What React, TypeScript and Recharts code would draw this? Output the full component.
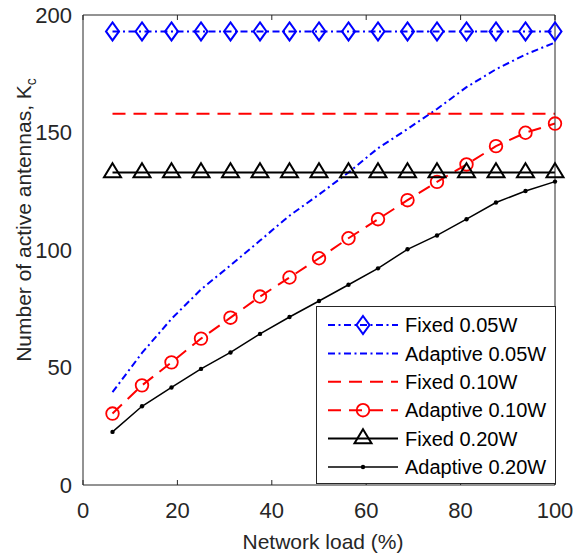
import React from 'react';
import { LineChart, Line, XAxis, YAxis, Legend } from 'recharts';

// ---------- data ----------
const networkLoad = [6.25, 12.5, 18.75, 25, 31.25, 37.5, 43.75, 50, 56.25, 62.5, 68.75, 75, 81.25, 87.5, 93.75, 100];
const fixed005 = [193, 193, 193, 193, 193, 193, 193, 193, 193, 193, 193, 193, 193, 193, 193, 193];
const adaptive005 = [39.5, 56.2, 70.7, 83.2, 93.5, 104, 114.6, 123.6, 133, 143.3, 151.5, 160, 169.3, 176.9, 183.2, 188.3];
const fixed010 = [158, 158, 158, 158, 158, 158, 158, 158, 158, 158, 158, 158, 158, 158, 158, 158];
const adaptive010 = [30.4, 42.4, 52.2, 62.3, 71.2, 80.2, 88.3, 96.5, 105, 113.1, 121.2, 129, 136.4, 144.2, 149.9, 153.8];
const fixed020 = [133, 133, 133, 133, 133, 133, 133, 133, 133, 133, 133, 133, 133, 133, 133, 133];
const adaptive020 = [22.6, 33.5, 41.5, 49.4, 56.4, 64.3, 71.5, 78.3, 85.2, 92.2, 100.3, 106.2, 113.1, 120.2, 125.1, 129.1];

const xTicks = [0, 20, 40, 60, 80, 100];
const yTicks = [0, 50, 100, 150, 200];
const seriesNames = ['Fixed 0.05W', 'Adaptive 0.05W', 'Fixed 0.10W', 'Adaptive 0.10W', 'Fixed 0.20W', 'Adaptive 0.20W'];
const xLabel = 'Network load (%)';
const yLabelMain = 'Number of active antennas, K';
const yLabelSub = 'c';

const rows = networkLoad.map((load, i) => ({
  load,
  fixed005: fixed005[i],
  adaptive005: adaptive005[i],
  fixed010: fixed010[i],
  adaptive010: adaptive010[i],
  fixed020: fixed020[i],
  adaptive020: adaptive020[i],
}));

// ---------- styles ----------
const FONT = '"Liberation Sans", Arial, Helvetica, sans-serif';
const AXIS = '#262626';
const BLUE = '#0000ff';
const RED = '#ff0000';
const BLACK = '#000000';
const DASHDOT = '7 3.5 2 3.5';
const DASHED = '13 8';

type Marker = 'diamond' | 'circle' | 'triangle' | 'dot' | 'none';
const series: { key: string; name: string; color: string; dash?: string; width: number; marker: Marker }[] = [
  { key: 'fixed005', name: seriesNames[0], color: BLUE, dash: DASHDOT, width: 2, marker: 'diamond' },
  { key: 'adaptive005', name: seriesNames[1], color: BLUE, dash: DASHDOT, width: 2, marker: 'none' },
  { key: 'fixed010', name: seriesNames[2], color: RED, dash: DASHED, width: 2, marker: 'none' },
  { key: 'adaptive010', name: seriesNames[3], color: RED, dash: DASHED, width: 2, marker: 'circle' },
  { key: 'fixed020', name: seriesNames[4], color: BLACK, width: 2, marker: 'triangle' },
  { key: 'adaptive020', name: seriesNames[5], color: BLACK, width: 1.5, marker: 'dot' },
];

function renderMarker(marker: Marker, cx: number, cy: number, color: string) {
  switch (marker) {
    case 'diamond':
      return (
        <path
          d={`M${cx},${cy - 9} L${cx + 6.5},${cy} L${cx},${cy + 9} L${cx - 6.5},${cy} Z`}
          fill="none"
          stroke={color}
          strokeWidth={2}
          strokeLinejoin="miter"
        />
      );
    case 'circle':
      return <circle cx={cx} cy={cy} r={6.3} fill="none" stroke={color} strokeWidth={1.8} />;
    case 'triangle':
      return (
        <path
          d={`M${cx},${cy - 9.3} L${cx + 8.5},${cy + 4.7} L${cx - 8.5},${cy + 4.7} Z`}
          fill="none"
          stroke={color}
          strokeWidth={2}
          strokeLinejoin="miter"
        />
      );
    case 'dot':
      return <circle cx={cx} cy={cy} r={2.2} fill={color} stroke="none" />;
    default:
      return null;
  }
}

const makeDot = (marker: Marker, color: string, key: string) => (props: any) => {
  const { cx, cy, index } = props;
  if (cx == null || cy == null || isNaN(cx) || isNaN(cy)) return <g key={`${key}-${index}`} />;
  return <g key={`${key}-${index}`}>{renderMarker(marker, cx, cy, color)}</g>;
};

function LegendBox() {
  const w = 241;
  const h = 179;
  return (
    <svg width={w} height={h} style={{ display: 'block', overflow: 'visible' }}>
      <rect x={0.5} y={0.5} width={w - 2} height={h - 2} fill="#ffffff" stroke={AXIS} strokeWidth={1} />
      {series.map((s, i) => {
        const cy = 19 + i * 28.4;
        return (
          <g key={s.key}>
            <line x1={12} x2={82} y1={cy} y2={cy} stroke={s.color} strokeWidth={s.width} strokeDasharray={s.dash} />
            {renderMarker(s.marker, 47, cy, s.color)}
            <text x={89} y={cy} dy="0.355em" fontSize={20} fontFamily={FONT} fill="#000000">
              {s.name}
            </text>
          </g>
        );
      })}
    </svg>
  );
}

function XLabel(props: any) {
  const vb = props && props.viewBox && props.viewBox.width ? props.viewBox : { x: 83, y: 485, width: 472, height: 70 };
  const x = vb.x + vb.width / 2 + 4;
  const y = vb.y + 64;
  return (
    <text x={x} y={y} textAnchor="middle" fontSize={21} fontFamily={FONT} fill={AXIS}>
      {xLabel}
    </text>
  );
}

function YLabel(props: any) {
  const vb = props && props.viewBox && props.viewBox.height ? props.viewBox : { x: 0, y: 15, width: 83, height: 470 };
  const cx = vb.x + 24;
  const cy = vb.y + vb.height / 2 - 30;
  return (
    <text
      x={cx}
      y={cy}
      dy="0.355em"
      transform={`rotate(-90 ${cx} ${cy})`}
      textAnchor="middle"
      fontSize={21}
      fontFamily={FONT}
      fill={AXIS}
    >
      {yLabelMain}
      <tspan fontSize={14} dy={5}>
        {yLabelSub}
      </tspan>
    </text>
  );
}

const tickStyle = { fill: AXIS, fontSize: 22, fontFamily: FONT };

export default function App() {
  return (
    <div style={{ position: 'absolute', left: 0, top: 0, width: 579, height: 555, background: '#ffffff' }}>
      <LineChart width={579} height={555} data={rows} margin={{ top: 15, right: 24, bottom: 0, left: 0 }}>
        <XAxis
          xAxisId="b"
          dataKey="load"
          type="number"
          domain={[0, 100]}
          ticks={xTicks}
          interval={0}
          height={70}
          tickSize={0}
          tickMargin={17}
          tickLine={false}
          axisLine={{ stroke: AXIS, strokeWidth: 1 }}
          tick={tickStyle}
          label={(p: any) => <XLabel {...p} />}
        />
        <XAxis
          xAxisId="bm"
          dataKey="load"
          type="number"
          orientation="bottom"
          mirror
          domain={[0, 100]}
          ticks={xTicks}
          interval={0}
          tickSize={5}
          tick={() => null}
          axisLine={false}
          tickLine={{ stroke: AXIS, strokeWidth: 1 }}
        />
        <XAxis
          xAxisId="t"
          dataKey="load"
          type="number"
          orientation="top"
          mirror
          domain={[0, 100]}
          ticks={xTicks}
          interval={0}
          tickSize={5}
          tick={() => null}
          axisLine={{ stroke: AXIS, strokeWidth: 1 }}
          tickLine={{ stroke: AXIS, strokeWidth: 1 }}
        />
        <YAxis
          yAxisId="l"
          type="number"
          domain={[0, 200]}
          ticks={yTicks}
          interval={0}
          width={83}
          tickSize={0}
          tickMargin={11}
          tickLine={false}
          axisLine={{ stroke: AXIS, strokeWidth: 1 }}
          tick={tickStyle}
          label={(p: any) => <YLabel {...p} />}
        />
        <YAxis
          yAxisId="lm"
          type="number"
          orientation="left"
          mirror
          domain={[0, 200]}
          ticks={yTicks}
          interval={0}
          tickSize={5}
          tick={() => null}
          axisLine={false}
          tickLine={{ stroke: AXIS, strokeWidth: 1 }}
        />
        <YAxis
          yAxisId="r"
          type="number"
          orientation="right"
          mirror
          domain={[0, 200]}
          ticks={yTicks}
          interval={0}
          tickSize={5}
          tick={() => null}
          axisLine={{ stroke: AXIS, strokeWidth: 1 }}
          tickLine={{ stroke: AXIS, strokeWidth: 1 }}
        />
        {series.map((s) => (
          <Line
            key={s.key}
            xAxisId="b"
            yAxisId="l"
            type="linear"
            dataKey={s.key}
            name={s.name}
            stroke={s.color}
            strokeWidth={s.width}
            strokeDasharray={s.dash}
            dot={s.marker === 'none' ? false : makeDot(s.marker, s.color, s.key)}
            activeDot={false}
            isAnimationActive={false}
          />
        ))}
        <Legend
          layout="vertical"
          align="center"
          verticalAlign="middle"
          content={() => <LegendBox />}
          wrapperStyle={{ position: 'absolute', left: 316, top: 306, width: 241, height: 179, margin: 0, padding: 0 }}
        />
      </LineChart>
    </div>
  );
}
